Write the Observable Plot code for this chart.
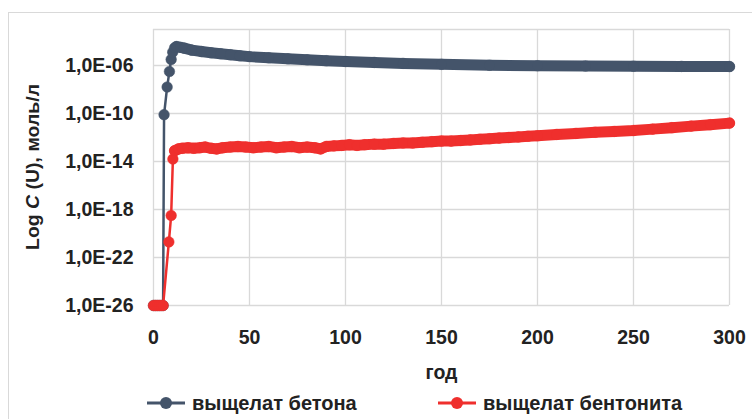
<!DOCTYPE html>
<html>
<head>
<meta charset="utf-8">
<script src="https://cdn.jsdelivr.net/npm/d3@7"></script>
<script src="https://cdn.jsdelivr.net/npm/@observablehq/plot@0.6"></script>
<style>
  html, body { margin: 0; padding: 0; background: #fff; }
  #wrap { position: relative; width: 752px; height: 419px; overflow: hidden; background: #fff; }
  #border { position: absolute; left: 8px; top: 12px; width: 800px; height: 500px; border: 1px solid #d9d9d9; }
  #chart { position: absolute; left: 0; top: 0; }
  .leg { position: absolute; top: 392px; height: 22px; display: flex; align-items: center;
         font-family: "Liberation Sans", Arial, sans-serif; font-weight: bold; font-size: 20px; color: #222; }
  .leg svg { margin-right: 6px; }
</style>
</head>
<body>
<div id="wrap"><div id="border"></div><div id="chart"></div></div>
<script>
// ---- data (years, concentrations in mol/L) ----
const seriesNames = ["выщелат бетона", "выщелат бентонита"];
const seriesColors = ["#44546a", "#ef2f2d"];

const betonYears = [0, 1, 2, 3, 4, 5, 5.5, 7.1, 8.3, 9.2, 10, 11, 12, 14, 16, 20, 25, 30, 35, 40, 45, 50, 60, 70, 80, 90, 100, 115, 130, 150, 175, 200, 225, 250, 275, 300];
const betonConc  = [1e-26, 1e-26, 1e-26, 1e-26, 1e-26, 1e-26, 8e-11, 1.6e-8, 3.2e-7, 3.2e-6, 1.3e-5, 3.0e-5, 3.8e-5, 3.3e-5, 2.8e-5, 1.9e-5, 1.45e-5, 1.15e-5, 9.5e-6, 7.9e-6, 6.5e-6, 5.5e-6, 4.4e-6, 3.6e-6, 3.0e-6, 2.5e-6, 2.15e-6, 1.8e-6, 1.5e-6, 1.25e-6, 1.05e-6, 9.6e-7, 9.0e-7, 8.7e-7, 8.4e-7, 8.2e-7];

const bentYears = [0, 1, 2, 3, 4, 5, 8, 9.2, 10.1, 11, 13, 15, 18, 21, 24, 27, 30, 33, 36, 40, 44, 48, 52, 56, 60, 64, 68, 72, 76, 80, 84, 87, 90, 94, 98, 102, 106, 110, 115, 120, 125, 130, 135, 140, 145, 150, 155, 160, 165, 170, 175, 180, 185, 190, 195, 200, 210, 220, 230, 240, 250, 260, 270, 280, 290, 300];
const bentConc  = [1e-26, 1e-26, 1e-26, 1e-26, 1e-26, 1e-26, 2e-21, 3.2e-19, 1.6e-14, 7.9e-14, 1.12e-13, 1.26e-13, 1.4e-13, 1.26e-13, 1.4e-13, 1.6e-13, 1.26e-13, 1.12e-13, 1.4e-13, 1.6e-13, 1.8e-13, 1.6e-13, 1.4e-13, 1.6e-13, 1.8e-13, 1.4e-13, 1.6e-13, 1.8e-13, 1.4e-13, 1.6e-13, 1.4e-13, 1.12e-13, 1.8e-13, 2.0e-13, 2.2e-13, 2.5e-13, 2.2e-13, 2.5e-13, 2.8e-13, 2.8e-13, 3.2e-13, 3.5e-13, 3.5e-13, 4.0e-13, 4.5e-13, 5.0e-13, 5.0e-13, 5.6e-13, 6.3e-13, 7.1e-13, 7.9e-13, 8.9e-13, 1.0e-12, 1.12e-12, 1.26e-12, 1.4e-12, 1.8e-12, 2.2e-12, 2.7e-12, 3.2e-12, 3.8e-12, 5.0e-12, 6.6e-12, 8.9e-12, 1.17e-11, 1.58e-11];

const xTicks = [0, 50, 100, 150, 200, 250, 300];
const yTicks = [1e-26, 1e-22, 1e-18, 1e-14, 1e-10, 1e-6];
const yMax = 1e-3;

// ---- build tables ----
const beton = betonYears.map((t, i) => ({t, c: betonConc[i]}));
const bent = bentYears.map((t, i) => ({t, c: bentConc[i]}));
const series = [beton, bent];

const fmt = d => "1,0E-" + String(-Math.round(Math.log10(d))).padStart(2, "0");
const font = {fontFamily: "'Liberation Sans', Arial, sans-serif", fontWeight: "bold", fontSize: "19.5px"};

const marks = [
  Plot.gridY([...yTicks, yMax], {y: d => d, stroke: "#d9d9d9", strokeOpacity: 1, strokeWidth: 1.3}),
  Plot.gridX(xTicks, {x: d => d, stroke: "#d9d9d9", strokeOpacity: 1, strokeWidth: 1.3}),
  Plot.axisY(yTicks, {tickSize: 0, tickPadding: 20, tickFormat: fmt, label: null}),
  Plot.axisX(xTicks, {tickSize: 0, tickPadding: 25, tickFormat: d => String(d), label: "год",
                      labelAnchor: "center", labelArrow: "none", labelOffset: 73})
];
series.forEach((data, k) => {
  const col = seriesColors[k];
  const startDense = k === 0 ? 12 : 11;
  marks.push(Plot.line(data, {x: "t", y: "c", stroke: col, strokeWidth: 2.5}));
  marks.push(Plot.line(data.filter(d => d.t >= startDense), {x: "t", y: "c", stroke: col, strokeWidth: 11,
                       strokeLinecap: "round", strokeLinejoin: "round"}));
  marks.push(Plot.dot(data, {x: "t", y: "c", r: 5.3, fill: col, stroke: col, strokeWidth: 0.5}));
});

const chart = Plot.plot({
  width: 752,
  height: 385,
  marginLeft: 153,
  marginRight: 23,
  marginTop: 29,
  marginBottom: 80,
  style: {...font, color: "#222", background: "transparent"},
  x: {domain: [0, 300]},
  y: {type: "log", domain: [1e-26, yMax]},
  marks
});
document.getElementById("chart").appendChild(chart);

// rotated y-axis title with italic C
const svg = d3.select(chart);
const yt = svg.append("text")
  .attr("transform", "translate(34,167) rotate(-90)")
  .attr("text-anchor", "middle")
  .attr("dominant-baseline", "middle")
  .attr("fill", "#222")
  .attr("textLength", 166)
  .attr("lengthAdjust", "spacingAndGlyphs")
  .style("font-family", font.fontFamily).style("font-weight", "bold").style("font-size", "19px");
yt.append("tspan").text("Log ");
yt.append("tspan").attr("font-style", "italic").text("C");
yt.append("tspan").text(" (U), моль/л");

// legend
const legLeft = [146, 437];
seriesNames.forEach((name, k) => {
  const div = document.createElement("div");
  div.className = "leg";
  div.style.left = legLeft[k] + "px";
  const s = d3.create("svg").attr("width", 40).attr("height", 22);
  s.append("line").attr("x1", 1).attr("x2", 39).attr("y1", 11).attr("y2", 11)
    .attr("stroke", seriesColors[k]).attr("stroke-width", 3);
  s.append("circle").attr("cx", 20).attr("cy", 11).attr("r", 6).attr("fill", seriesColors[k]);
  div.appendChild(s.node());
  const sp = document.createElement("span");
  sp.textContent = name;
  div.appendChild(sp);
  document.getElementById("wrap").appendChild(div);
});
</script>
</body>
</html>
